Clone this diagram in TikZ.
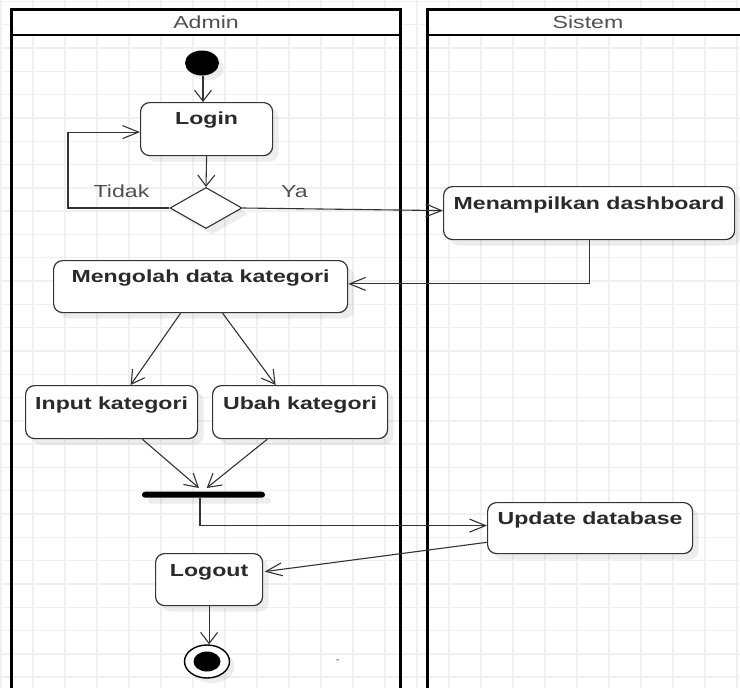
\documentclass[tikz,border=0pt]{standalone}
\usepackage{fontspec}
\setmainfont[FakeStretch=1.32]{Liberation Sans}
\usetikzlibrary{shapes.geometric,arrows.meta,shadows,calc}

\definecolor{linec}{HTML}{333333}
\definecolor{textc}{HTML}{2A2A2A}
\definecolor{headc}{HTML}{505050}
\definecolor{gridc}{HTML}{F0F0F0}

\tikzset{
  act/.style={draw=linec, line width=1.2pt, rounded corners=9pt, fill=white,
    inner sep=0pt, anchor=north west, text=textc,
    font=\fontsize{17.5}{20}\selectfont\bfseries,
    drop shadow={shadow xshift=6pt, shadow yshift=-6pt, fill=black, opacity=0.07}},
  flow/.style={draw=linec, line width=1.1pt},
  varr/.style={-{Straight Barb[length=11pt,width=17pt,line width=1.1pt]}},
  harr/.style={-{Straight Barb[length=16pt,width=13pt,line width=1.1pt]}},
  darr/.style={-{Straight Barb[length=13pt,width=15pt,line width=1.1pt]}},
  lane/.style={draw=black, line width=2.6pt},
  headtxt/.style={text=headc, font=\fontsize{17.5}{20}\selectfont, anchor=base},
  guard/.style={text=headc, font=\fontsize{17.5}{20}\selectfont, anchor=base},
}

\begin{document}
\begin{tikzpicture}[x=1pt, y=-1pt]
\useasboundingbox (0,0) rectangle (740,688);
\clip (0,0) rectangle (740,688);
\fill[white] (0,0) rectangle (740,688);

% background grid
\foreach \k in {0,...,23} {
  \draw[gridc, line width=1.4pt] (1+32*\k,0) -- (1+32*\k,688);
}
\foreach \k in {-2,...,27} {
  \draw[gridc, line width=1.4pt] (0,48+23.3*\k) -- (740,48+23.3*\k);
}

% swimlanes
\fill[white] (11.5,9.5) rectangle (400.5,35);
\fill[white] (427.5,9.5) rectangle (750,35);
\draw[lane] (11.5,700) -- (11.5,9.5) -- (400.5,9.5) -- (400.5,700);
\draw[lane] (11.5,35) -- (400.5,35);
\draw[lane] (427.5,700) -- (427.5,9.5) -- (750,9.5);
\draw[lane] (427.5,35) -- (750,35);
\node[headtxt] (hadmin) at (206,28.5) {Admin};
\node[headtxt] (hsistem) at (588,28.5) {Sistem};

% activities
\node[act, minimum width=132pt, text height=22pt, text depth=31pt] (login) at (140,102) {Login};
\node[act, minimum width=291pt, text height=22.5pt, text depth=30.5pt] (dash) at (443,186) {Menampilkan dashboard};
\node[act, minimum width=294pt, text height=22pt, text depth=30pt] (olah) at (53,260) {Mengolah data kategori};
\node[act, minimum width=172pt, text height=24pt, text depth=29pt] (input) at (25,385) {Input kategori};
\node[act, minimum width=175pt, text height=24pt, text depth=29pt] (ubah) at (212,385) {Ubah kategori};
\node[act, minimum width=205pt, text height=21.5pt, text depth=29.5pt] (update) at (487,502) {Update database};
\node[act, minimum width=107pt, text height=23pt, text depth=29pt] (logout) at (155,553) {Logout};

% start, decision, join bar, end
\node[ellipse, fill=black, minimum width=34pt, minimum height=25pt, inner sep=0pt,
  drop shadow={shadow xshift=5pt, shadow yshift=-5pt, fill=black, opacity=0.07}] (start) at (202,63) {};
\node[diamond, draw=linec, line width=1.1pt, fill=white, minimum width=72pt, minimum height=41pt, inner sep=0pt,
  drop shadow={shadow xshift=6pt, shadow yshift=-6pt, fill=black, opacity=0.07}] (dec) at (206,208) {};
\node[fill=black, rounded corners=3pt, minimum width=123pt, minimum height=6pt, inner sep=0pt,
  drop shadow={shadow xshift=6pt, shadow yshift=-6pt, fill=black, opacity=0.07}] (bar) at (203.5,494.7) {};
\node[ellipse, draw=black, line width=1.4pt, fill=white, minimum width=45pt, minimum height=33pt, inner sep=0pt,
  drop shadow={shadow xshift=5pt, shadow yshift=-5pt, fill=black, opacity=0.07}] (fin) at (207,661.5) {};
\node[ellipse, fill=black, minimum width=27pt, minimum height=20pt, inner sep=0pt] (finin) at (fin.center) {};
\node[text=black, font=\fontsize{8}{8}\selectfont] (mark) at (338,661) {-};

\coordinate (loopx) at (68,0);

% control flow
\draw[flow, varr] (start.south -| 203,0) -- (203,102);
\draw[flow, varr] (login.south) -- (dec.north);
\draw[flow, harr] (dec.west) -- (dec.west -| loopx) |- ([yshift=-3pt]login.west);
\node[guard] (tidak) at (121.5,197) {Tidak};
\node[guard] (ya) at (294.5,197) {Ya};
\draw[flow, harr] (dec.east) -- ([yshift=2.5pt]dash.west);
\draw[flow, harr] (dash.south) |- ([yshift=2.7pt]olah.east);
\draw[flow, darr] ([xshift=-20pt]olah.south) -- ([xshift=19pt]input.north);
\draw[flow, darr] ([xshift=22pt]olah.south) -- ([xshift=-24.5pt]ubah.north);
\draw[flow, darr] ([xshift=30.7pt]input.south) -- ([xshift=-4.5pt,yshift=3.5pt]bar.north);
\draw[flow, darr] ([xshift=-32.8pt]ubah.south) -- ([xshift=3.2pt,yshift=3.5pt]bar.north);
\draw[flow, harr] ([xshift=-3.5pt]bar.south) |- ([yshift=2.5pt]update.west);
\draw[flow, harr] ([yshift=-14.2pt]update.west) -- ([xshift=1.5pt,yshift=8pt]logout.east);
\draw[flow, varr] (logout.south) -- (logout.south |- fin.north);
\end{tikzpicture}
\end{document}
